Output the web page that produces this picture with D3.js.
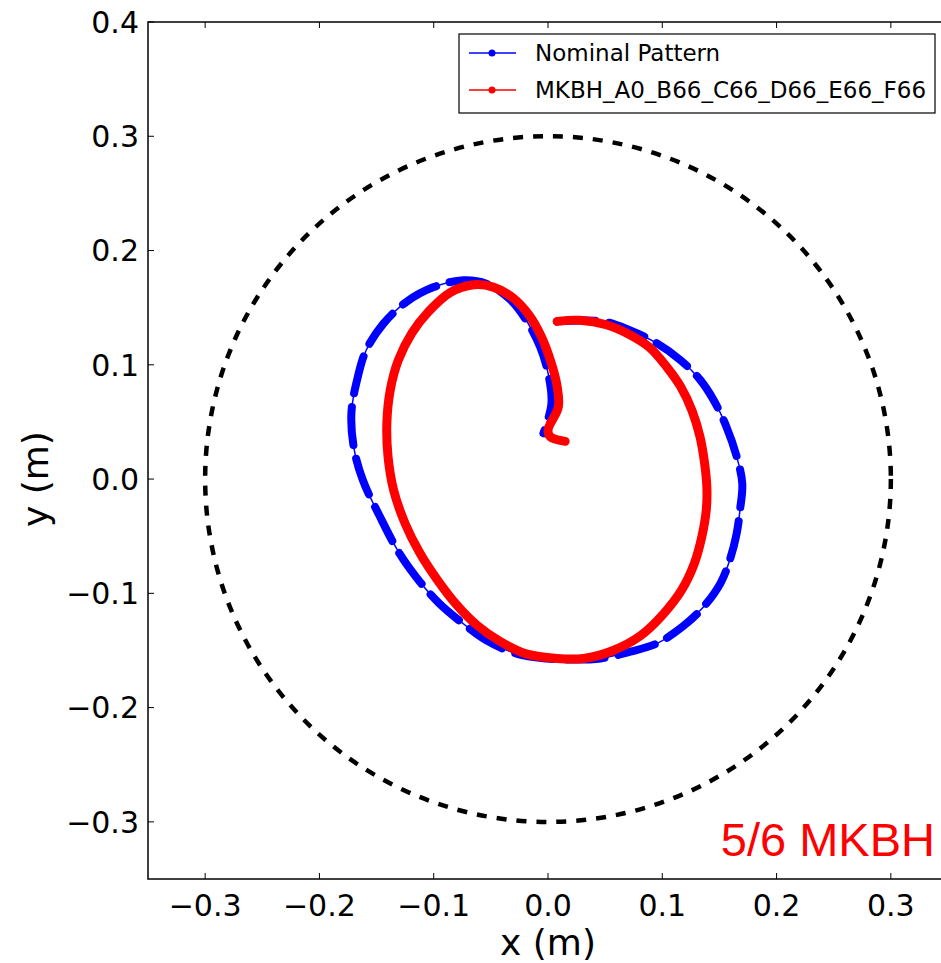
<!DOCTYPE html>
<html>
<head>
<meta charset="utf-8">
<script src="https://cdn.jsdelivr.net/npm/d3@7"></script>
<style>
  body { margin: 0; background: #fff; }
  svg text { font-family: "DejaVu Sans", sans-serif; }
</style>
</head>
<body>
<div id="chart"></div>
<script>
// Nominal pattern (blue)
const nominalX = [0.008, 0.048, 0.072, 0.095, 0.116, 0.133, 0.145, 0.156, 0.165, 0.170, 0.168,
    0.165, 0.159, 0.151, 0.136, 0.118, 0.095, 0.072, 0.046, 0.022, -0.001, -0.027, -0.054,
    -0.071, -0.095, -0.112, -0.130, -0.147, -0.162, -0.170, -0.172, -0.167, -0.159, -0.144,
    -0.124, -0.100, -0.074, -0.054, -0.033, -0.019, -0.007, 0.000, 0.003, -0.004];
const nominalY = [0.138, 0.138, 0.130, 0.119, 0.104, 0.087, 0.069, 0.046, 0.020, -0.004, -0.027,
    -0.048, -0.071, -0.091, -0.112, -0.129, -0.144, -0.151, -0.157, -0.158, -0.157, -0.153, -0.141,
    -0.129, -0.109, -0.090, -0.065, -0.033, -0.001, 0.028, 0.058, 0.087, 0.113, 0.136,
    0.155, 0.168, 0.174, 0.171, 0.157, 0.139, 0.116, 0.093, 0.066, 0.040];

// MKBH_A0_B66_C66_D66_E66_F66 (red)
const mkbhX = [0.008, 0.028, 0.051, 0.072, 0.089, 0.104, 0.116, 0.126, 0.133, 0.137, 0.139,
    0.1385, 0.1345, 0.128, 0.117, 0.101, 0.081, 0.057, 0.031, 0.008, -0.019, -0.042, -0.062,
    -0.080, -0.097, -0.112, -0.125, -0.135, -0.140, -0.141, -0.138, -0.131, -0.119, -0.105,
    -0.086, -0.065, -0.048, -0.030, -0.017, -0.006, 0.003, 0.008, 0.009, 0.000, 0.002, 0.015];
const mkbhY = [0.138, 0.139, 0.135, 0.126, 0.115, 0.098, 0.081, 0.060, 0.037, 0.014, -0.007,
    -0.027, -0.051, -0.074, -0.097, -0.118, -0.137, -0.150, -0.157, -0.157, -0.153, -0.142, -0.128,
    -0.110, -0.088, -0.065, -0.039, -0.010, 0.020, 0.049, 0.078, 0.104, 0.128, 0.146,
    0.163, 0.170, 0.168, 0.158, 0.144, 0.125, 0.101, 0.081, 0.063, 0.043, 0.037, 0.033];

const boundaryR = 0.3;
const xTicks = [-0.3, -0.2, -0.1, 0.0, 0.1, 0.2, 0.3];
const yTicks = [-0.3, -0.2, -0.1, 0.0, 0.1, 0.2, 0.3, 0.4];
const seriesNames = ["Nominal Pattern", "MKBH_A0_B66_C66_D66_E66_F66"];
const seriesColors = ["#0000ff", "#ff0000"];

const W = 941, H = 963;
const mLeft = 148, mTop = 22, mRight = 948, mBottom = 879;

const svg = d3.select("#chart").append("svg")
    .attr("width", W).attr("height", H);

const x = d3.scaleLinear().domain([-0.35, 0.35]).range([mLeft, mRight]);
const y = d3.scaleLinear().domain([-0.35, 0.4]).range([mBottom, mTop]);

const fmt = d => (d < 0 ? "\u2212" : "") + Math.abs(d).toFixed(1);

// dashed boundary circle
svg.append("circle")
    .attr("cx", x(0)).attr("cy", y(0))
    .attr("r", x(boundaryR) - x(0))
    .attr("fill", "none")
    .attr("stroke", "#000")
    .attr("stroke-width", 4.5)
    .attr("stroke-dasharray", "10,10");

const line = d3.line()
    .x(d => x(d[0])).y(d => y(d[1]))
    .curve(d3.curveCatmullRom.alpha(0.5));

const nominal = nominalX.map((v, i) => [v, nominalY[i]]);
const mkbh = mkbhX.map((v, i) => [v, mkbhY[i]]);

// blue: thin connecting line + dense markers (shown as broken thick stroke)
svg.append("path").attr("d", line(nominal))
    .attr("fill", "none").attr("stroke", seriesColors[0]).attr("stroke-width", 1.5);
svg.append("path").attr("d", line(nominal))
    .attr("fill", "none").attr("stroke", seriesColors[0])
    .attr("stroke-width", 8).attr("stroke-linecap", "round")
    .attr("stroke-dasharray", "38,14");

// red: markers dense everywhere
svg.append("path").attr("d", line(mkbh))
    .attr("fill", "none").attr("stroke", seriesColors[1])
    .attr("stroke-width", 9).attr("stroke-linecap", "round")
    .attr("stroke-linejoin", "round");

// spines
svg.append("rect")
    .attr("x", mLeft).attr("y", mTop)
    .attr("width", mRight - mLeft).attr("height", mBottom - mTop)
    .attr("fill", "none").attr("stroke", "#000").attr("stroke-width", 1.5);

// ticks (inward, matplotlib classic)
const tickLen = 6;
xTicks.forEach(t => {
    svg.append("line").attr("x1", x(t)).attr("x2", x(t))
        .attr("y1", mBottom).attr("y2", mBottom - tickLen).attr("stroke", "#000");
    svg.append("line").attr("x1", x(t)).attr("x2", x(t))
        .attr("y1", mTop).attr("y2", mTop + tickLen).attr("stroke", "#000");
    svg.append("text").attr("x", x(t)).attr("y", mBottom + 37)
        .attr("text-anchor", "middle").attr("font-size", 30).text(fmt(t));
});
yTicks.forEach(t => {
    svg.append("line").attr("x1", mLeft).attr("x2", mLeft + tickLen)
        .attr("y1", y(t)).attr("y2", y(t)).attr("stroke", "#000");
    svg.append("line").attr("x1", mRight).attr("x2", mRight - tickLen)
        .attr("y1", y(t)).attr("y2", y(t)).attr("stroke", "#000");
    svg.append("text").attr("x", mLeft - 9).attr("y", y(t))
        .attr("dy", "0.36em")
        .attr("text-anchor", "end").attr("font-size", 30).text(fmt(t));
});

// axis labels
svg.append("text").attr("x", x(0)).attr("y", 955)
    .attr("text-anchor", "middle").attr("font-size", 36).text("x (m)");
svg.append("text")
    .attr("transform", `translate(48,${y(0)}) rotate(-90)`)
    .attr("text-anchor", "middle").attr("font-size", 36).text("y (m)");

// legend
const lg = svg.append("g");
lg.append("rect").attr("x", 459).attr("y", 34).attr("width", 476).attr("height", 79)
    .attr("fill", "#fff").attr("stroke", "#000").attr("stroke-width", 1.2);
seriesNames.forEach((name, i) => {
    const ly = 53 + i * 37;
    lg.append("line").attr("x1", 469).attr("x2", 516).attr("y1", ly).attr("y2", ly)
        .attr("stroke", seriesColors[i]).attr("stroke-width", 1.5);
    lg.append("circle").attr("cx", 492).attr("cy", ly).attr("r", 3.5)
        .attr("fill", seriesColors[i]);
    lg.append("text").attr("x", 535).attr("y", ly).attr("dy", "0.36em")
        .attr("font-size", 23).text(name);
});

// annotation
svg.append("text").attr("x", 935).attr("y", 856)
    .attr("text-anchor", "end")
    .style("font-family", "'Liberation Sans', Arial, sans-serif")
    .attr("font-size", 47).attr("fill", "#ff0000").text("5/6 MKBH");
</script>
</body>
</html>
